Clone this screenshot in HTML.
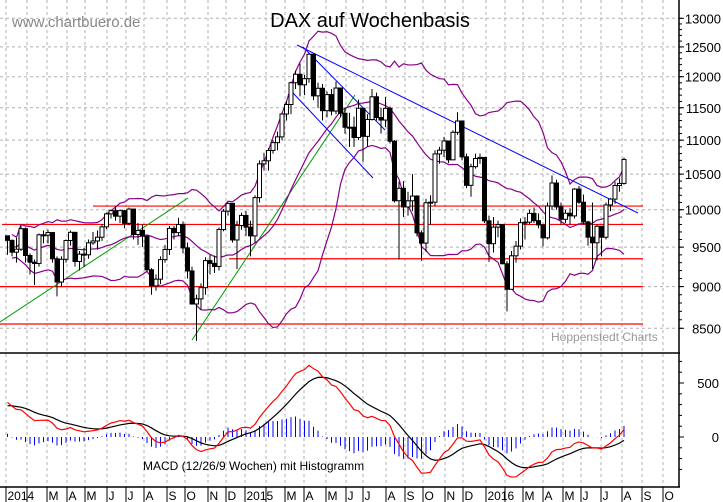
<!DOCTYPE html>
<html><head><meta charset="utf-8"><style>
body{margin:0;background:#fff}
svg{display:block;font-family:"Liberation Sans",Arial,sans-serif}
</style></head><body>
<svg id="chart" width="723" height="502" viewBox="0 0 723 502" xmlns="http://www.w3.org/2000/svg">
<rect width="723" height="502" fill="#fff"/>
<g id="grid"></g>
<g id="refs"></g>
<g id="bands"></g>
<g id="candles"></g>
<g id="macd"></g>
<g id="axes"></g>
<text x="12" y="27" font-size="15" fill="#888">www.chartbuero.de</text>
<text x="370" y="27" font-size="20" text-anchor="middle" fill="#000">DAX auf Wochenbasis</text>
<text x="551" y="341" font-size="12" fill="#999">Hoppenstedt Charts</text>
<text x="143" y="470" font-size="12" fill="#000">MACD (12/26/9 Wochen) mit Histogramm</text>
</svg>
<script>
const closes=[9589,9435,9473,9743,9392,9306,9290,9662,9657,9692,9350,9056,9343,9587,9695,9315,9409,9401,9556,9581,9630,9768,9943,9987,9912,9987,9815,10009,9666,9720,9644,9210,9009,9092,9339,9470,9747,9691,9799,9490,9195,8788,8850,8987,9326,9291,9252,9732,9980,10087,9594,9786,9922,9764,9648,10167,10649,10694,10846,10963,11050,11402,11551,11901,12040,11868,11967,12375,11689,11811,11454,11709,11448,11815,11413,11197,11197,11041,11492,11058,11316,11674,11347,11308,11490,10985,10124,10298,10038,10123,10189,9688,9553,10096,10104,10795,10850,10988,10708,11119,11293,10752,10340,10608,10727,10743,9849,9545,9764,9798,9286,8967,9388,9513,9824,9831,9950,9851,9794,9622,10051,10373,10039,9870,9952,9916,10287,10103,9834,9631,9557,9776,9630,10066,10147,10337,10367,10713];
const highs=[9620,9600,9620,9790,9760,9420,9340,9680,9720,9730,9700,9380,9380,9600,9720,9700,9450,9490,9600,9700,9720,9800,9960,10000,10050,10000,10000,10030,10000,9820,9800,9650,9230,9150,9380,9530,9780,9780,9890,9840,9560,9250,8900,9040,9370,9400,9390,9760,10010,10100,10090,9850,9960,9980,9850,10200,10700,10810,10880,11000,11130,11420,11600,11920,12100,12220,12030,12390,12340,11900,11880,11760,11800,11920,11820,11500,11420,11360,11630,11500,11400,11800,11740,11500,11670,11520,11000,10390,10400,10250,10500,10200,9720,10150,10200,10850,10900,11050,10980,11150,11430,11300,10800,10650,10800,10800,10530,9920,9900,9850,9800,9320,9450,9580,9880,9900,10000,10030,9950,9800,10100,10480,10420,10100,10000,10020,10300,10330,10210,9850,10100,9800,9750,10100,10160,10390,10440,10740];
const lows=[9400,9380,9300,9450,9300,9150,9020,9250,9550,9550,9300,8880,9000,9300,9520,9250,9200,9250,9350,9530,9470,9580,9740,9880,9850,9820,9750,9790,9600,9530,9500,9190,8900,8950,9030,9300,9400,9600,9650,9420,9100,8780,8355,8720,8900,9150,9170,9200,9710,9920,9560,9220,9730,9650,9380,9560,10100,10550,10550,10800,10850,11000,11300,11400,11800,11680,11700,11900,11620,11500,11300,11350,11380,11400,11350,11100,10900,10900,11000,10680,10900,11300,11300,11100,11200,10950,10100,9340,9900,9920,9980,9640,9325,9440,9800,10050,10650,10750,10660,10700,11080,10700,10300,10180,10580,10650,9820,9310,9430,9630,9280,8700,9000,9300,9470,9600,9800,9820,9750,9510,9600,10000,10000,9800,9820,9800,9880,10080,9800,9520,9220,9330,9380,9600,9980,10080,10250,10350];
const priceTicks=[13000,12500,12000,11500,11000,10500,10000,9500,9000,8500];
const macdTicks=[500,0];
const monthLabels=["2014","","M","A","M","J","J","A","S","O","N","D","2015","","M","A","M","J","J","A","S","O","N","D","2016","","M","A","M","J","J","A","S","O"];
const monthX=[6,27,47,67,85,107,126,144,167,185,208,226,245,266,285,304,326,346,363,386,405,423,445,463,486,505,523,543,563,581,601,622,642,663];
const refLevels=[10050,9800,9350,9000,8550];
const refStartX=[93,2,229,0,0];
const macdInit=[320];
const signalInit=[290];

const NS="http://www.w3.org/2000/svg";
function mk(tag,attrs,parent){const e=document.createElementNS(NS,tag);for(const k in attrs)e.setAttribute(k,attrs[k]);parent.appendChild(e);return e;}
const X=i=>309+(i-67)*4.5;
const Y=p=>18.3+729.6*Math.log(13000/p);
const YM=m=>437-m*0.108;
const G=id=>document.getElementById(id);

const grid=G('grid');
priceTicks.forEach(t=>{const l=mk('line',{x1:0,x2:679,y1:Y(t),y2:Y(t),stroke:'#b0b0b0','stroke-dasharray':'3,3'},grid);

});
monthX.forEach(x=>{const l=mk('line',{x1:x,x2:x,y1:0,y2:487,stroke:'#b0b0b0','stroke-dasharray':'3,3'},grid);

});

const refs=G('refs');
refLevels.forEach((v,k)=>{const l=mk('line',{x1:refStartX[k],x2:643,y1:Y(v),y2:Y(v),stroke:'#ff0000','stroke-width':1.2},refs);

});
[[0,322,188,198],[192,340,355,95]].forEach(s=>{const l=mk('line',{x1:s[0],y1:s[1],x2:s[2],y2:s[3],stroke:'#009900'},refs);

});
[[297,45,638,213],[303,47,385,130],[293,93,373,178]].forEach(s=>{const l=mk('line',{x1:s[0],y1:s[1],x2:s[2],y2:s[3],stroke:'#0000ff'},refs);

});

const bands=G('bands');
let up=[],mid=[],lo=[];
closes.forEach((c,i)=>{const w=closes.slice(Math.max(0,i-19),i+1);const m=w.reduce((a,b)=>a+b,0)/w.length;
const sd=Math.sqrt(w.reduce((a,b)=>a+(b-m)*(b-m),0)/w.length);
mid.push([X(i),Y(m)]);up.push([X(i),Y(m+2*sd)]);lo.push([X(i),Y(Math.max(m-2*sd,7000))]);});
[[up,'bollinger-upper'],[mid,'bollinger-middle'],[lo,'bollinger-lower']].forEach(b=>{
const p=mk('polyline',{points:b[0].slice(1).map(q=>q.join(',')).join(' '),fill:'none',stroke:'#880088','stroke-width':1.2},bands);

});

const cg=G('candles');
closes.forEach((c,i)=>{const o=i>0?closes[i-1]:c+60;const x=X(i);
const w=mk('line',{x1:x,x2:x,y1:Y(highs[i]),y2:Y(lows[i]),stroke:'#000'},cg);


const t=Y(Math.max(o,c)),b=Y(Math.min(o,c));
const r=mk('rect',{x:x-2,y:t,width:4,height:Math.max(1,b-t),fill:c>=o?'#fff':'#000',stroke:'#000','stroke-width':1},cg);

});

const mg=G('macd');
let e12=closes[0],e26=closes[0]-macdInit[0],sig=signalInit[0];
const a12=2/13,a26=2/27,a9=2/10;let mp=[],sp=[];
closes.forEach((c,i)=>{if(i>0){e12+=a12*(c-e12);e26+=a26*(c-e26);}
const m=e12-e26;if(i>0)sig+=a9*(m-sig);
mp.push([X(i),YM(m)]);sp.push([X(i),YM(sig)]);
const h=m-sig;const hb=mk('line',{x1:X(i),x2:X(i),y1:YM(0),y2:YM(h),stroke:'#0000ff'},mg);

});
const sl=mk('polyline',{points:sp.map(q=>q.join(',')).join(' '),fill:'none',stroke:'#000','stroke-width':1.2},mg);


const ml=mk('polyline',{points:mp.map(q=>q.join(',')).join(' '),fill:'none',stroke:'#ff0000','stroke-width':1.2},mg);



const ax=G('axes');
[[679,0,679,487],[0,353,680,353],[0,487,680,487]].forEach(s=>{const l=mk('line',{x1:s[0],y1:s[1],x2:s[2],y2:s[3],stroke:'#000','stroke-width':1.5},ax);

});
priceTicks.forEach(t=>{const tk=mk('line',{x1:679,x2:684,y1:Y(t),y2:Y(t),stroke:'#000'},ax);


const tx=mk('text',{x:721,y:Y(t)+5,'font-size':13,'text-anchor':'end'},ax);tx.textContent=t;

});
for(let p=8500;p<=13000;p+=100){const tk=mk('line',{x1:679,x2:682,y1:Y(p),y2:Y(p),stroke:'#000'},ax);

}
macdTicks.forEach(t=>{const tk=mk('line',{x1:679,x2:684,y1:YM(t),y2:YM(t),stroke:'#000'},ax);


const tx=mk('text',{x:719,y:YM(t)+5,'font-size':13,'text-anchor':'end'},ax);tx.textContent=t;

});
for(let m=-300;m<=700;m+=100){const tk=mk('line',{x1:679,x2:682,y1:YM(m),y2:YM(m),stroke:'#000'},ax);

}
monthX.forEach((x,k)=>{const tk=mk('line',{x1:x,x2:x,y1:487,y2:502,stroke:'#000'},ax);


if(monthLabels[k]){const tx=mk('text',{x:x+1.5,y:500,'font-size':12},ax);tx.textContent=monthLabels[k];

}});
</script>
</body></html>
